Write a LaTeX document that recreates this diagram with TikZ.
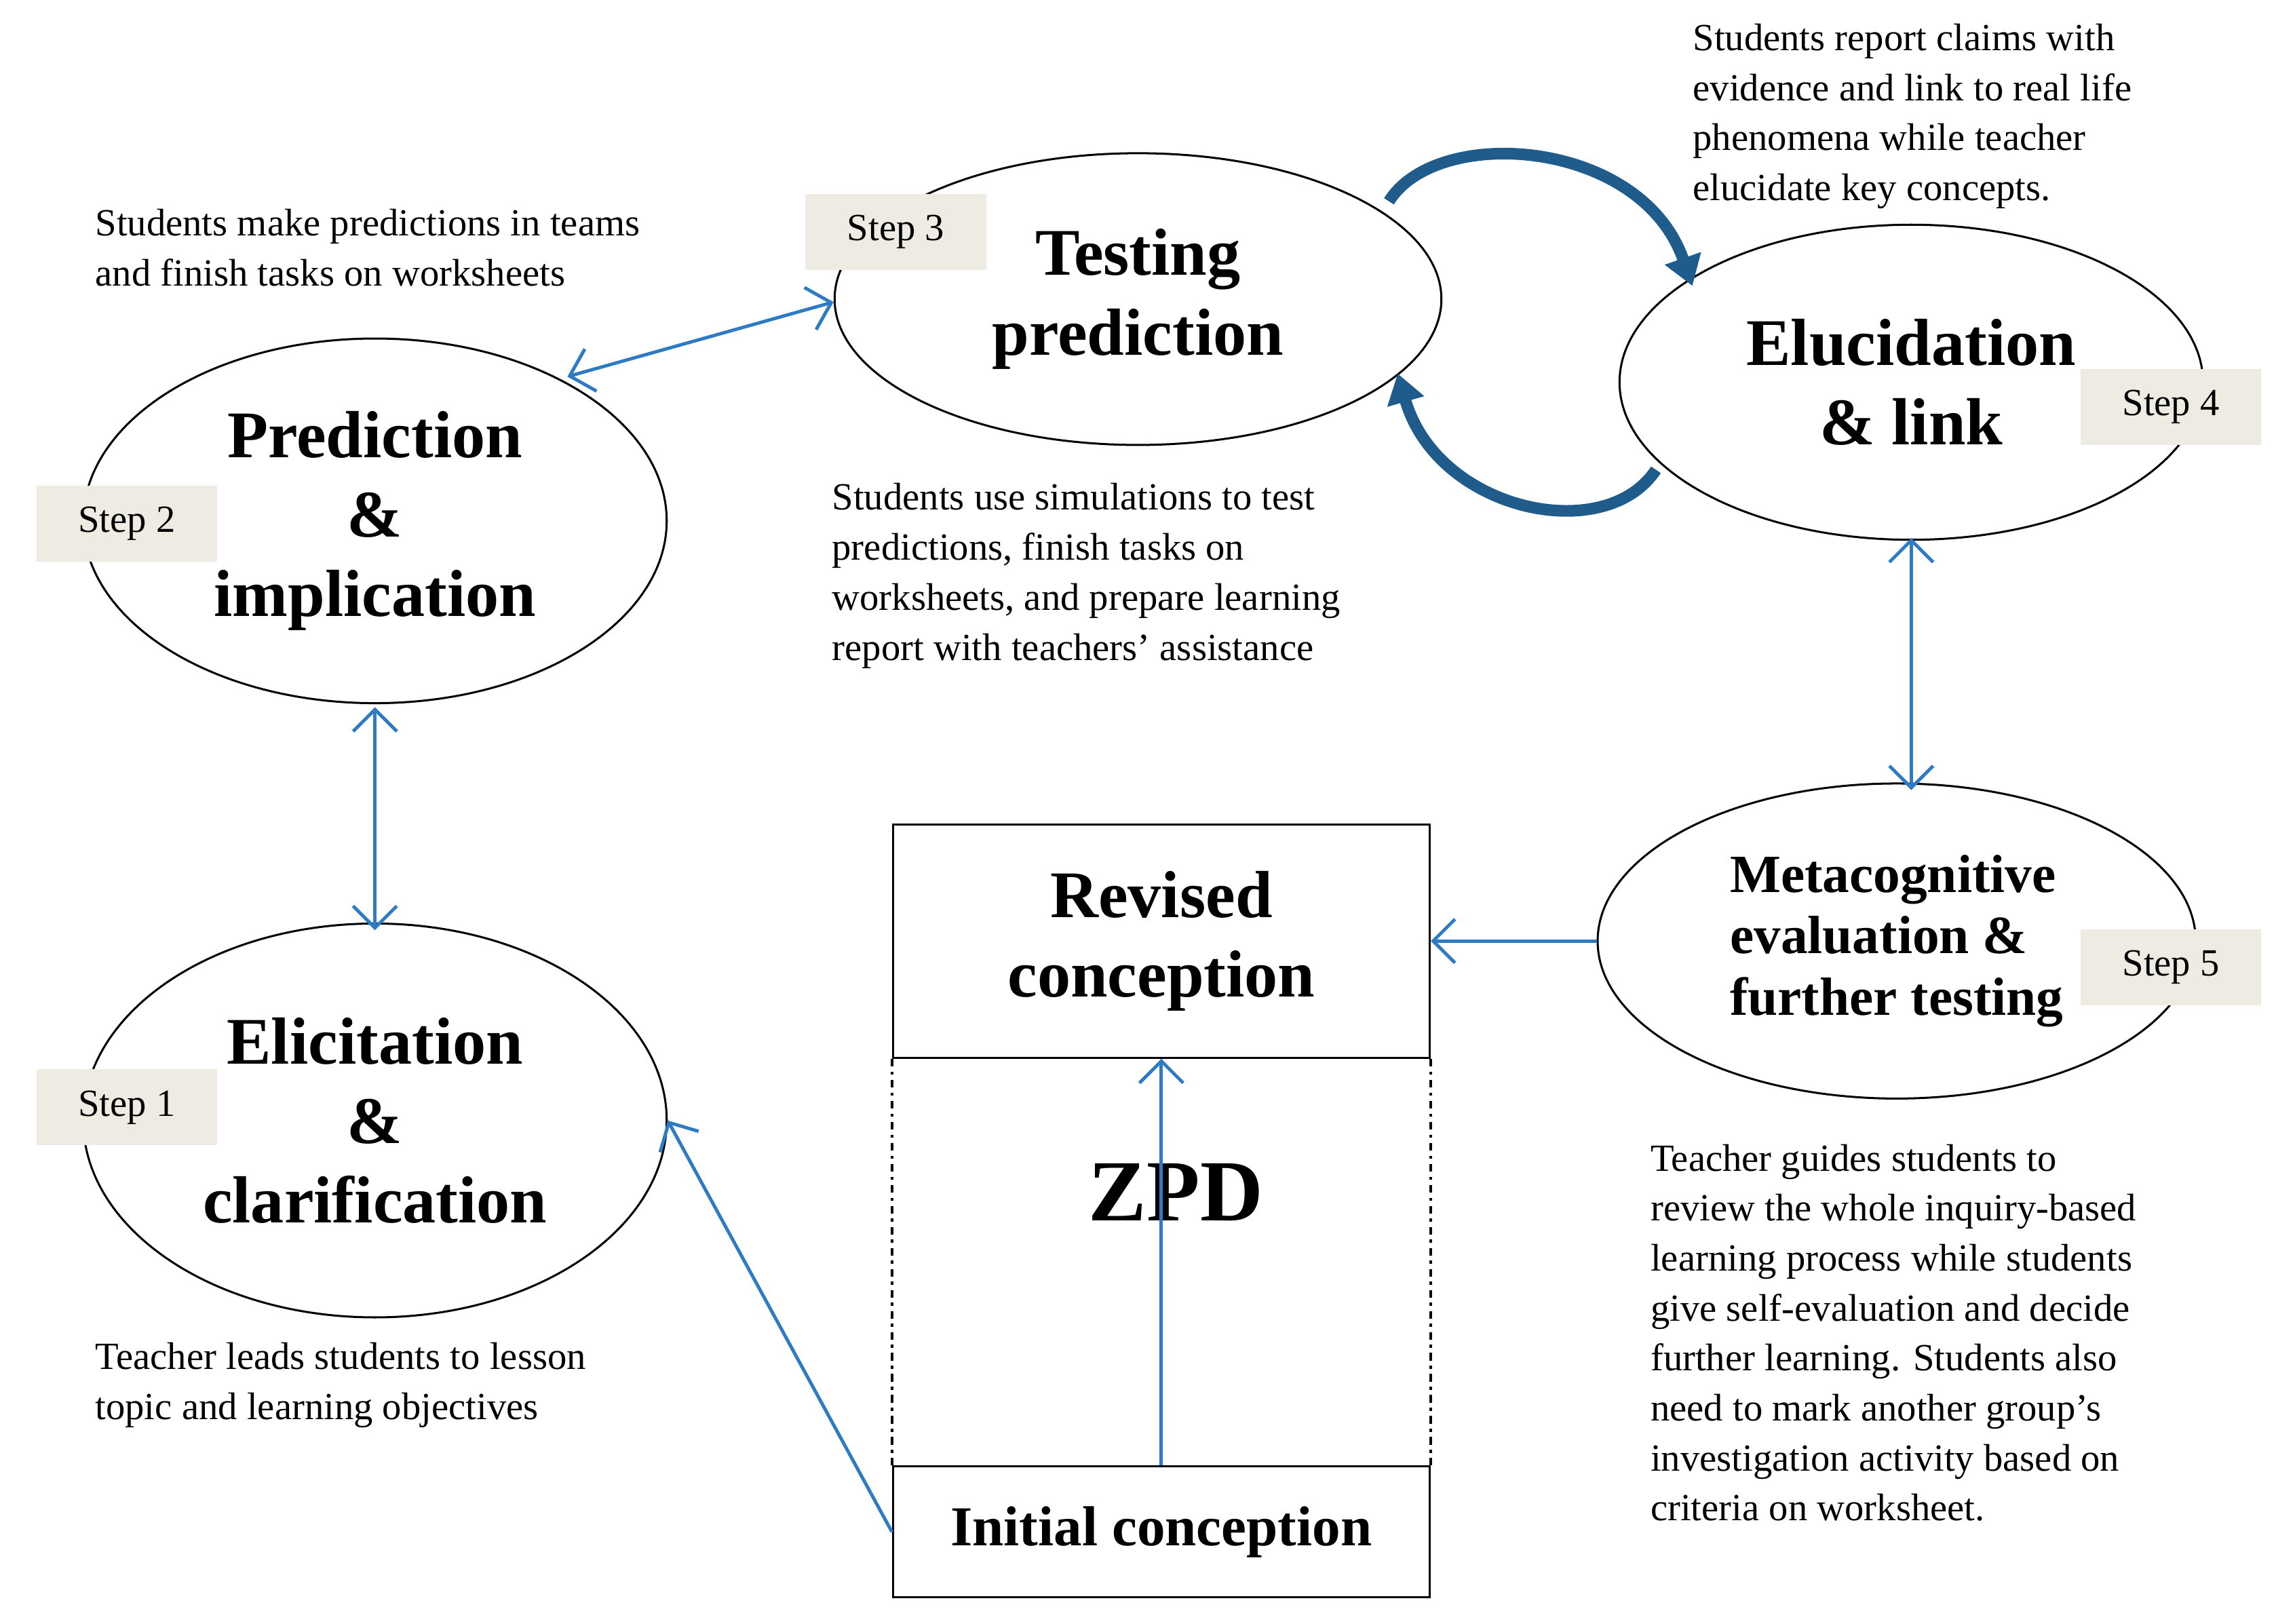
\documentclass[tikz,border=0pt]{standalone}
\usepackage{fontspec}
\setmainfont{Liberation Serif}
\usetikzlibrary{arrows.meta,shapes.geometric}
\definecolor{linkblue}{HTML}{2E7BC4}
\definecolor{loopblue}{HTML}{1F5C8B}
\definecolor{tagfill}{HTML}{EEEBE2}
\begin{document}
\begin{tikzpicture}[
		x=0.02cm, y=-0.02cm,
		align=center,
		stage/.style={ellipse, draw, thick, inner sep=0pt,
				font=\bfseries\fontsize{26}{31}\selectfont},
		tag/.style={fill=tagfill, minimum width=2.48cm, minimum height=1.04cm,
				font=\fontsize{15}{18}\selectfont},
		note/.style={anchor=north west, align=left, inner sep=0pt,
				font=\fontsize{15}{19.5}\selectfont},
		box/.style={draw, thick, minimum width=7.36cm, inner sep=0pt},
		link/.style={linkblue, line width=1.3pt, {Straight Barb[length=3mm]}-{Straight Barb[length=3mm]}},
		single/.style={linkblue, line width=1.3pt, -{Straight Barb[length=3mm]}},
		loop/.style={loopblue, line width=1.6mm, -{Triangle[length=4mm,width=5mm]}}
	]
	\useasboundingbox (0,0) rectangle (1560,1113);

	% the five steps
	\node[stage, minimum width=8.32cm, minimum height=4cm] (testing) at (780,205) {Testing\\prediction};
	\node[stage, minimum width=8cm, minimum height=4.32cm] (elucid) at (1310,262) {Elucidation\\\& link};
	\node[stage, minimum width=8cm, minimum height=5cm] (predict) at (257,357) {Prediction\\\&\\implication};
	\node[stage, minimum width=8cm, minimum height=5.4cm] (elicit) at (257,768) {Elicitation\\\&\\clarification};
	\node[stage, minimum width=8.2cm, minimum height=4.32cm, align=left,
		font=\bfseries\fontsize{21}{24}\selectfont] (meta) at (1300,645) {Metacognitive\\evaluation \&\\further testing};

	\node[tag] (tag3) at (614,159) {Step 3};
	\node[tag] (tag2) at (87,359) {Step 2};
	\node[tag] (tag1) at (87,759) {Step 1};
	\node[tag] (tag4) at (1488,279) {Step 4};
	\node[tag] (tag5) at (1488,663) {Step 5};

	% conception boxes
	\node[box, minimum height=3.2cm, font=\bfseries\fontsize{26}{31}\selectfont] (revised) at (796,645) {Revised\\conception};
	\node[box, minimum height=1.8cm, font=\bfseries\fontsize{22}{26}\selectfont] (initial) at (796,1050) {Initial conception};
	\draw[line width=1.2pt, dash dot] (revised.south west) -- (initial.north west)
	(revised.south east) -- (initial.north east);
	\node[font=\bfseries\fontsize{34}{40}\selectfont] (zpd) at (806,817) {ZPD};

	% notes
	\node[note] (n2) at (65,143) {Students make predictions in teams\\and finish tasks on worksheets};
	\node[note] (n3) at (570,331) {Students use simulations to test\\predictions, finish tasks on\\worksheets, and prepare learning\\report with teachers’ assistance};
	\node[note] (n4) at (1160,16) {Students report claims with\\evidence and link to real life\\phenomena while teacher\\elucidate key concepts.};
	\node[note] (n1) at (65,920) {Teacher leads students to lesson\\topic and learning objectives};
	\node[note] (n5) at (1131,784) {Teacher guides students to\\review the whole inquiry-based\\learning process while students\\give self-evaluation and decide\\further learning. Students also\\need to mark another group’s\\investigation activity based on\\criteria on worksheet.};

	% connectors
	\draw[link] (predict.north east) ++(-10,-10) coordinate (p2) -- (testing.west |- 0,207);
	\draw[link] (predict.south) ++(0,2) -- ([yshift=-3pt]elicit.north);
	\draw[link] (elucid.south) ++(0,-2) -- ([yshift=-3pt]meta.north -| elucid.south);
	\draw[single] (meta.west) -- (revised.east);
	\draw[single] (initial.west) -- (elicit.east);
	\draw[single] (initial.north) -- (revised.south);

	\coordinate (loopa) at (952,138);
	\coordinate (loopb) at (1160,196);
	\coordinate (loopc) at (1135,322);
	\coordinate (loopd) at (958,256);
	\draw[loop] (loopa) .. controls (985,85) and (1125,95) .. (loopb);
	\draw[loop] (loopc) .. controls (1100,375) and (985,350) .. (loopd);
\end{tikzpicture}
\end{document}
